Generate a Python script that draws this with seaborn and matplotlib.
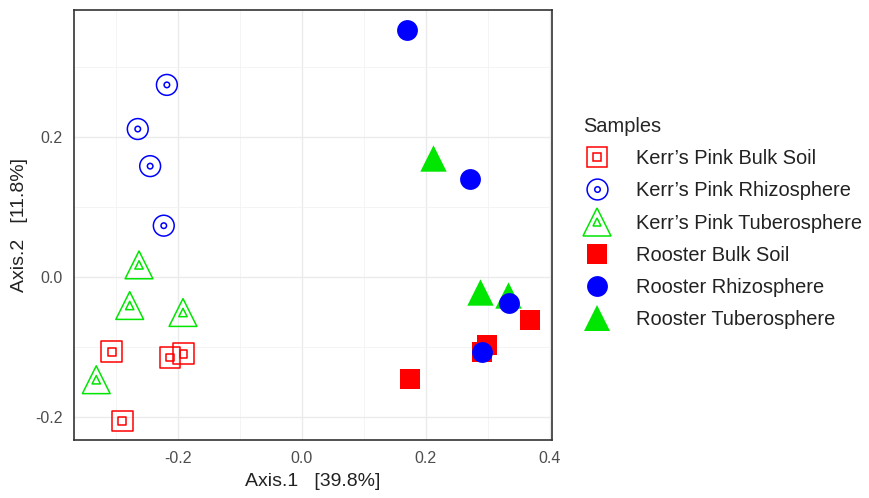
import numpy as np
import pandas as pd
import matplotlib
matplotlib.use("Agg")
import matplotlib.pyplot as plt
import seaborn as sns
from matplotlib.lines import Line2D

# PCoA coordinates
kp_bulk_x = [-0.307, -0.213, -0.191, -0.290]
kp_bulk_y = [-0.107, -0.115, -0.110, -0.206]
kp_rhizo_x = [-0.218, -0.265, -0.245, -0.223]
kp_rhizo_y = [0.274, 0.211, 0.158, 0.073]
kp_tuber_x = [-0.263, -0.278, -0.192, -0.332]
kp_tuber_y = [0.017, -0.041, -0.051, -0.147]
ro_bulk_x = [0.368, 0.299, 0.290, 0.175]
ro_bulk_y = [-0.061, -0.097, -0.107, -0.146]
ro_rhizo_x = [0.169, 0.271, 0.335, 0.290]
ro_rhizo_y = [0.353, 0.140, -0.038, -0.108]
ro_tuber_x = [0.211, 0.287, 0.333]
ro_tuber_y = [0.170, -0.021, -0.026]

groups = ["Kerr\u2019s Pink Bulk Soil", "Kerr\u2019s Pink Rhizosphere", "Kerr\u2019s Pink Tuberosphere",
          "Rooster Bulk Soil", "Rooster Rhizosphere", "Rooster Tuberosphere"]
xs = [kp_bulk_x, kp_rhizo_x, kp_tuber_x, ro_bulk_x, ro_rhizo_x, ro_tuber_x]
ys = [kp_bulk_y, kp_rhizo_y, kp_tuber_y, ro_bulk_y, ro_rhizo_y, ro_tuber_y]

x_ticks = [-0.2, 0.0, 0.2, 0.4]
y_ticks = [-0.2, 0.0, 0.2]

df = pd.concat([pd.DataFrame({"Axis1": x, "Axis2": y, "Samples": g})
                for g, x, y in zip(groups, xs, ys)], ignore_index=True)

RED, BLUE, GREEN = "#FF0000", "#0000FF", "#00E600"
# (color, marker, filled, inner marker, outer size, inner size)
styles = {
    groups[0]: (RED, "s", False, "s", 15.0, 5.5),
    groups[1]: (BLUE, "o", False, "o", 15.0, 4.0),
    groups[2]: (GREEN, "^", False, "^", 20.0, 6.0),
    groups[3]: (RED, "s", True, None, 14.5, 0),
    groups[4]: (BLUE, "o", True, None, 15.0, 0),
    groups[5]: (GREEN, "^", True, None, 19.0, 0),
}
# blue circles sit on top of the overlapping squares/triangles
draw_order = [groups[0], groups[1], groups[2], groups[3], groups[5], groups[4]]

sns.set_theme(style="whitegrid")
plt.rcParams["font.family"] = ["Liberation Sans", "DejaVu Sans"]
plt.rcParams["axes.unicode_minus"] = False

fig = plt.figure(figsize=(8.7, 4.98), dpi=100)
ax = fig.add_axes([0.085, 0.1165, 0.549, 0.8635])

for g in draw_order:
    col, mk, filled, inner, size, isize = styles[g]
    sub = df[df["Samples"] == g]
    if filled:
        sns.scatterplot(data=sub, x="Axis1", y="Axis2", marker=mk, s=size ** 2,
                        color=col, edgecolor=col, linewidth=0, ax=ax, zorder=3)
    else:
        sns.scatterplot(data=sub, x="Axis1", y="Axis2", marker=mk, s=size ** 2,
                        color=col, facecolor="none", edgecolor=col, linewidth=1.1, ax=ax, zorder=3)
        sns.scatterplot(data=sub, x="Axis1", y="Axis2", marker=inner, s=isize ** 2,
                        color=col, facecolor="none", edgecolor=col, linewidth=1.1, ax=ax, zorder=3)

ax.set_xlim(-0.368, 0.403)
ax.set_ylim(-0.233, 0.381)
ax.set_xticks(x_ticks)
ax.set_yticks(y_ticks)
ax.set_xticklabels([f"{v:.1f}" for v in x_ticks])
ax.set_yticklabels([f"{v:.1f}" for v in y_ticks])
ax.set_xticks([-0.3, -0.1, 0.1, 0.3], minor=True)
ax.set_yticks([-0.1, 0.1, 0.3], minor=True)
ax.grid(True, which="major", color="#EBEBEB", linewidth=1.0)
ax.grid(True, which="minor", color="#F2F2F2", linewidth=0.6)
ax.tick_params(which="major", length=3, color="#333333", labelsize=11.5, labelcolor="#4D4D4D", pad=5)
ax.tick_params(which="minor", length=0)
for sp in ax.spines.values():
    sp.set_color("#333333")
    sp.set_linewidth(1.2)
ax.set_xlabel("Axis.1   [39.8%]", fontsize=14, color="#222222", labelpad=5)
ax.set_ylabel("Axis.2   [11.8%]", fontsize=14, color="#222222", labelpad=5)

# legend with nested markers
handles = []
for g in groups:
    col, mk, filled, inner, size, isize = styles[g]
    if filled:
        handles.append(Line2D([], [], linestyle="none", marker=mk, markersize=size,
                              markerfacecolor=col, markeredgecolor=col, markeredgewidth=0))
    else:
        outer_h = Line2D([], [], linestyle="none", marker=mk, markersize=size,
                         markerfacecolor="none", markeredgecolor=col, markeredgewidth=1.1)
        inner_h = Line2D([], [], linestyle="none", marker=inner, markersize=isize,
                         markerfacecolor="none", markeredgecolor=col, markeredgewidth=1.1)
        handles.append((outer_h, inner_h))

leg = fig.legend(handles, groups, title="Samples", loc="upper left",
                 bbox_to_anchor=(0.670, 0.765), frameon=False, fontsize=14.4,
                 title_fontsize=14.4, labelspacing=0.66, handletextpad=1.25,
                 handlelength=1.4, borderpad=0, borderaxespad=0, alignment="left")
for t in leg.get_texts():
    t.set_color("#222222")

fig.savefig("out.png", dpi=100)
